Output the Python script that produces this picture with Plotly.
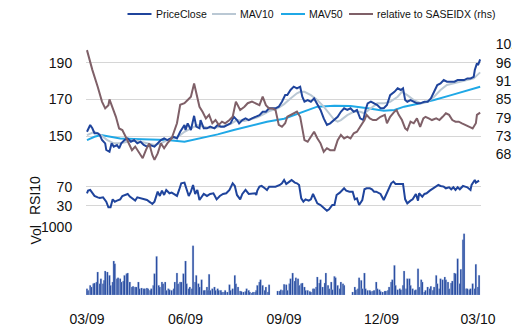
import pandas as pd
import plotly.graph_objects as go

BASE = pd.Timestamp("2009-03-01")

# ---- main panel (day offsets from 2009-03-01) ----
price_day = [0,3,5,7,10,12,14,17,18,21,23,25,28,30,32,35,38,41,44,47,50,53,56,59,63,66,69,72,75,78,81,84,87,91,92,94,97,100,102,105,106,109,112,115,119,122,125,128,131,134,137,140,142,145,148,151,154,157,161,164,167,170,173,176,179,182,185,187,190,193,196,199,201,203,206,209,212,215,218,221,224,227,231,234,237,240,243,246,249,252,255,258,260,262,265,268,271,274,277,280,283,287,290,293,295,297,299,302,305,308,311,315,318,321,324,327,330,333,336,339,343,346,349,352,355,358,361,362,364,365,367]
price_close = [152.3,156.0,154.2,151.5,151.5,150.5,147.8,146.0,142.4,141.4,146.0,144.2,145.1,143.3,146.0,147.8,148.7,146.9,147.8,146.0,146.9,145.1,144.2,145.1,144.2,146.0,147.8,148.7,147.8,148.7,149.6,148.7,152.3,156.0,153.3,156.9,153.3,161.0,155.1,154.2,158.7,154.2,154.2,155.1,154.2,156.0,155.1,155.1,156.0,156.9,160.5,158.7,156.9,158.7,159.6,158.7,159.6,160.5,161.4,163.2,163.2,165.1,165.1,165.1,166.0,168.7,172.3,172.3,175.1,176.9,176.0,176.9,171.4,168.7,169.6,168.7,170.5,166.9,164.2,159.6,156.0,156.9,158.7,160.5,163.2,165.1,164.2,165.1,163.2,164.2,159.6,158.7,164.2,167.8,168.7,167.8,166.9,165.1,165.1,166.9,172.3,174.1,176.0,175.1,176.0,169.6,168.7,169.6,168.7,167.8,167.8,168.7,168.7,170.5,174.1,177.8,178.7,180.5,179.6,179.6,179.6,180.5,180.5,180.5,181.4,181.4,182.3,186.0,189.6,188.7,191.8]

mav10_day = [0,7,13,19,25,31,38,44,50,56,63,69,75,81,87,91,97,103,109,115,122,128,134,140,147,153,159,165,171,178,184,190,196,199,203,209,215,221,227,231,234,237,243,249,255,259,265,271,277,283,290,294,299,305,312,318,324,330,336,343,349,355,361,367]
mav10 = [150.5,152.3,150.5,147.8,146.0,146.0,146.9,147.8,146.9,146.0,145.1,146.0,147.8,148.7,150.5,152.3,154.2,156.0,155.1,154.2,154.7,155.5,156.5,158.7,158.2,159.1,160.2,162.0,163.8,165.1,167.4,170.5,173.3,174.1,174.1,172.3,169.6,166.0,161.4,158.7,157.8,158.7,161.4,163.2,163.2,162.4,165.1,167.8,167.8,168.7,171.4,174.1,172.3,169.6,167.8,168.7,171.4,175.1,177.8,178.7,179.6,180.5,181.4,184.7]

mav50_day = [0,7,13,19,25,31,44,59,75,91,106,122,137,153,168,184,199,215,231,246,262,277,287,296,308,324,340,355,367]
mav50 = [147.8,149.6,150.5,150.0,149.3,148.7,148.4,148.2,147.8,146.9,148.7,150.9,153.3,155.5,157.8,159.4,162.7,166.0,166.5,166.4,165.1,163.8,164.2,166.0,167.4,169.6,172.3,174.7,176.9]

rel_day = [0,5,10,14,17,20,21,24,27,30,33,36,39,42,45,49,52,55,58,61,63,66,69,72,75,79,81,84,87,91,94,97,100,102,105,108,111,114,117,120,123,126,129,133,136,139,141,143,147,150,154,157,161,164,167,170,173,176,179,182,185,187,190,193,196,199,201,203,206,209,212,215,218,221,224,227,231,234,237,240,243,246,249,252,255,259,261,264,267,270,274,278,280,283,287,289,291,294,297,299,302,305,308,311,314,316,319,322,326,329,332,335,338,341,344,347,350,354,357,360,363,364,367]
rel_sase = [100.2,94.1,88.9,84.3,82.2,83.2,85.0,82.2,79.6,76.0,75.5,73.5,71.4,69.3,70.4,68.3,66.8,69.3,71.4,67.8,66.3,68.3,71.4,69.9,71.4,72.9,75.0,77.6,83.3,83.8,84.8,85.8,89.9,86.9,82.7,81.1,79.1,80.2,77.6,78.6,77.1,78.1,77.6,78.6,79.6,84.3,82.7,81.7,82.7,83.8,84.3,83.8,83.2,85.8,83.2,82.2,82.2,81.7,77.1,76.5,77.6,79.6,80.2,80.7,81.2,79.6,75.5,72.4,71.9,73.5,75.0,73.0,71.4,68.8,69.9,69.3,69.3,72.4,74.0,72.9,73.5,72.9,74.5,75.0,76.5,78.6,80.2,79.1,78.6,78.6,79.6,80.2,77.6,79.6,81.2,81.7,80.2,78.6,76.0,75.5,78.1,77.6,79.1,76.5,79.1,79.6,79.1,78.6,79.1,78.6,79.6,80.7,80.2,78.6,78.1,78.1,77.6,77.1,76.5,76.0,77.6,80.2,80.9]

# ---- RSI panel ----
rsi_day = [0,1,3,5,7,10,12,15,18,20,22,24,26,28,31,33,35,38,40,43,45,47,49,53,56,59,61,63,66,68,70,72,74,77,79,81,84,86,88,91,92,95,97,99,101,103,105,109,112,115,118,121,124,127,130,133,136,138,140,143,145,148,151,154,157,
           158,159,161,163,166,168,170,173,176,180,182,184,186,189,191,194,196,198,200,202,204,207,209,211,213,215,218,222,224,226,229,231,233,236,238,240,242,245,248,250,252,254,257,259,261,264,266,268,270,274,277,279,282,284,286,288,292,295,297,299,302,304,307,309,310,313,315,317,320,323,326,328,330,333,335,338,340,342,344,346,348,351,353,355,358,359,362,363,366]
rsi10 = [56.7,62.3,63.7,58.1,51.1,48.2,46.8,48.2,39.1,27.2,27.2,44.0,39.1,41.2,44.0,51.1,53.2,55.3,49.7,44.0,41.2,48.2,46.8,44.0,42.6,37.7,34.2,39.1,60.2,51.1,62.3,53.2,63.7,56.7,58.1,55.3,51.1,63.7,77.7,79.1,72.1,51.1,60.2,74.2,55.3,63.7,42.6,55.3,51.1,55.3,56.7,44.0,51.1,55.3,56.7,63.7,77.7,72.1,53.2,44.0,55.3,63.7,55.3,55.3,56.7,
         53.2,62.3,70.7,72.1,67.2,63.7,70.7,70.7,70.7,74.2,77.7,84.7,76.3,81.3,84.7,79.1,77.7,74.2,46.1,39.1,44.0,41.2,44.0,55.3,46.1,35.6,32.1,23.0,20.2,23.0,32.1,32.1,53.2,58.1,62.3,67.2,62.3,60.2,60.2,44.0,46.1,32.1,42.6,65.1,67.2,67.2,65.1,60.2,60.2,55.3,42.6,53.2,67.2,77.7,81.3,76.3,76.3,76.3,44.0,35.6,41.2,44.0,55.3,41.2,56.7,49.7,55.3,56.7,62.3,67.2,72.1,74.2,72.1,70.7,67.2,69.3,65.1,69.3,63.7,69.3,65.1,72.1,70.7,69.3,63.7,74.2,84.7,79.1,83.4]

# ---- Volume panel ----
vol_day = [0,1,3,4,6,7,9,10,12,13,15,16,17,19,21,22,24,25,26,28,29,31,32,34,35,37,38,40,42,43,45,46,48,49,51,53,54,56,57,59,60,62,63,65,67,68,70,71,73,74,76,77,79,81,82,84,85,87,88,90,92,93,95,96,98,99,101,102,104,105,107,109,110,112,113,114,115,117,119,120,122,123,125,126,128,129,131,133,134,136,138,139,141,143,144,146,148,149,151,152,154,155,157,
           158,159,161,162,164,166,167,169,170,
           178,180,181,183,184,186,187,189,190,192,194,195,197,198,200,201,203,204,206,208,209,211,212,214,215,217,218,220,222,223,225,226,228,229,231,232,234,236,237,239,240,
           248,250,251,253,254,256,257,259,260,262,264,265,267,268,270,271,273,274,276,278,279,281,282,284,285,287,288,290,292,293,295,296,298,299,301,302,304,306,307,309,310,312,313,315,316,318,320,321,323,324,326,327,329,330,332,334,335,337,338,340,341,343,344,346,348,349,351,352,354,355,357,358,360,362,363,365,366]
volume = [93,69,142,118,167,176,191,338,167,240,167,216,353,338,289,142,191,500,461,240,255,240,191,206,289,314,323,191,118,127,118,118,191,93,103,93,93,103,93,69,93,142,314,568,142,118,191,167,191,69,93,78,69,93,191,323,167,191,191,314,500,167,93,118,93,725,191,289,167,118,225,69,69,118,69,304,69,93,118,69,93,69,69,44,44,69,44,152,69,93,289,167,118,59,54,44,54,93,69,44,29,44,44,
          69,142,191,225,142,69,118,44,152,
          59,59,78,69,157,152,69,167,240,323,206,255,240,142,167,176,118,69,69,54,44,93,93,118,265,176,225,118,176,323,142,93,191,78,274,255,142,93,191,167,142,
          44,118,78,93,255,216,93,323,93,69,69,54,59,69,191,93,78,54,44,59,59,69,118,191,225,436,142,78,93,78,142,353,93,240,240,142,93,69,78,387,118,225,191,44,69,118,93,127,69,118,289,167,93,240,225,265,225,191,93,176,206,323,314,534,167,377,813,902,93,93,78,93,167,93,451,118,289]

# ---- axes ticks / legend labels ----
left_tickvals = [130, 150, 170, 190]
left_ticktext = ["", "150", "170", "190"]
rhs_tickvals = [68, 73.67, 79.33, 85, 90.67, 96.33, 102]
rhs_ticktext = ["68", "73", "79", "85", "91", "96", "102"]
rsi_tickvals = [30, 70]
vol_tickvals = [1000]
x_tickvals = ["2009-03-01", "2009-06-01", "2009-09-01", "2009-12-01", "2010-03-01"]
legend_names = ["PriceClose", "MAV10", "MAV50", "relative to SASEIDX (rhs)"]


def to_dates(days):
    return BASE + pd.to_timedelta(days, unit="D")


W, H = 512, 333
FONT = "Arial, Liberation Sans, sans-serif"
C_PRICE = "#1f449c"
C_MAV10 = "#bac8d4"
C_MAV50 = "#1fa8e6"
C_REL = "#7f6068"
legend_colors = [C_PRICE, C_MAV10, C_MAV50, C_REL]
legend_line_x = [127.5, 212, 281, 349]   # px, start of each legend line sample

fig = go.Figure()
fig.add_trace(go.Scatter(x=to_dates(mav50_day), y=mav50, name=legend_names[2], mode="lines",
                         line=dict(color=C_MAV50, width=2), yaxis="y", showlegend=False))
fig.add_trace(go.Scatter(x=to_dates(mav10_day), y=mav10, name=legend_names[1], mode="lines",
                         line=dict(color=C_MAV10, width=2), yaxis="y", showlegend=False))
fig.add_trace(go.Scatter(x=to_dates(price_day), y=price_close, name=legend_names[0], mode="lines",
                         line=dict(color=C_PRICE, width=2), yaxis="y", showlegend=False))
fig.add_trace(go.Scatter(x=to_dates(rel_day), y=rel_sase, name=legend_names[3], mode="lines",
                         line=dict(color=C_REL, width=2), yaxis="y2", showlegend=False))
fig.add_trace(go.Scatter(x=to_dates(rsi_day), y=rsi10, name="RSI10", mode="lines",
                         line=dict(color=C_PRICE, width=2), yaxis="y3", showlegend=False))
fig.add_trace(go.Bar(x=to_dates(vol_day), y=volume, name="Vol", yaxis="y4", showlegend=False,
                     width=1.55 * 86400000,
                     marker=dict(color=C_PRICE, line=dict(color="#a9bfe3", width=0.3))))


def py(px):
    return 1 - px / H


tickfont = dict(family=FONT, size=14, color="#111")
GRID = "#d6d6d6"
hide_tick = dict(ticks="outside", tickcolor="rgba(0,0,0,0)", zeroline=False, showline=False,
                 automargin=False, tickfont=tickfont)

fig.update_layout(
    width=W, height=H,
    margin=dict(l=0, r=0, t=0, b=0, autoexpand=False),
    paper_bgcolor="white", plot_bgcolor="white",
    font=dict(family=FONT, color="#111"),
    showlegend=False,
    hovermode=False,
    xaxis=dict(domain=[86 / W, 481 / W], range=["2009-02-28 02:00", "2010-03-03 19:00"],
               type="date", anchor="y4", tickvals=x_tickvals, tickformat="%m/%y",
               showgrid=False, ticklen=11, **hide_tick),
    yaxis=dict(domain=[py(172.7), py(44.3)], range=[130, 200], anchor="x",
               tickvals=left_tickvals, ticktext=left_ticktext, showgrid=True, gridcolor=GRID,
               gridwidth=1, ticklen=10, **hide_tick),
    yaxis2=dict(overlaying="y", side="right", anchor="x", range=[62.33, 102],
                tickvals=rhs_tickvals, ticktext=rhs_ticktext, showgrid=False, ticklen=11,
                **hide_tick),
    yaxis3=dict(domain=[py(215.5), py(172.7)], range=[10, 100], anchor="x",
                tickvals=rsi_tickvals, showgrid=True, gridcolor=GRID, ticklen=10, **hide_tick),
    yaxis4=dict(domain=[py(295), py(227)], range=[0, 1000], anchor="x",
                tickvals=vol_tickvals, showgrid=False, ticklen=10, **hide_tick),
    bargap=0,
)

# legend drawn as line samples + text
for name, color, lx in zip(legend_names, legend_colors, legend_line_x):
    fig.add_shape(type="line", xref="paper", yref="paper", x0=lx / W, x1=(lx + 24) / W,
                  y0=py(14), y1=py(14), line=dict(color=color, width=2))
    fig.add_annotation(text=name, x=(lx + 26) / W, y=py(14), xref="paper", yref="paper",
                       xanchor="left", yanchor="middle", showarrow=False,
                       font=dict(family=FONT, size=10.5, color="#111"))

fig.add_annotation(text="RSI10", x=25 / W, y=py(196), xref="paper", yref="paper",
                   textangle=-90, showarrow=False, font=dict(family=FONT, size=14, color="#111"))
fig.add_annotation(text="Vol", x=25 / W, y=py(247), xref="paper", yref="paper",
                   textangle=-90, showarrow=False, font=dict(family=FONT, size=14, color="#111"))

fig.write_html("out.html", config={"displayModeBar": False, "staticPlot": True},
               post_script="document.body.style.margin='0';document.body.style.overflow='hidden';")
